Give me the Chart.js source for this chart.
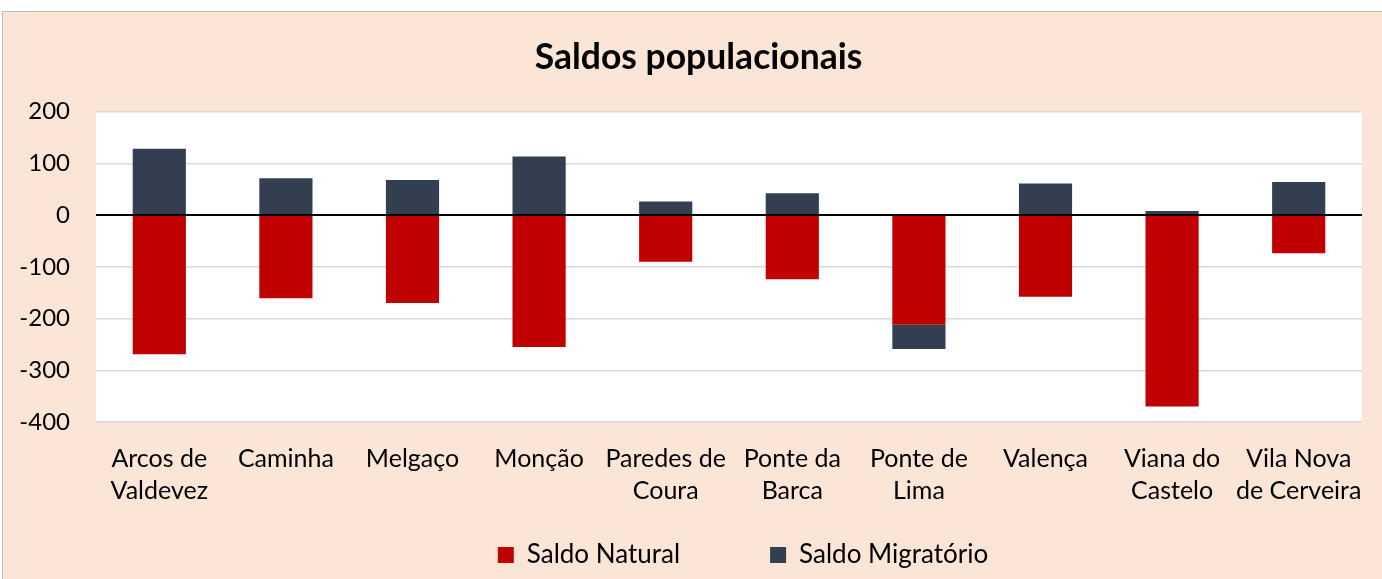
<!DOCTYPE html>
<html>
<head>
<meta charset="utf-8">
<script src="https://cdn.jsdelivr.net/npm/chart.js@4"></script>
<style>
    body { margin: 0; background: #ffffff; }
    #wrap {
        position: absolute;
        left: 2px;
        top: 11px;
        width: 1379px;
        height: 567px;
        border-top: 1px solid #bfbfbf;
        border-left: 1px solid #bfbfbf;
        background: #fbe5d6;
    }
</style>
</head>
<body>
<div id="wrap"><canvas id="myChart" width="1379" height="567"></canvas></div>
<script>
const municipios = [
    ['Arcos de', 'Valdevez'],
    'Caminha',
    'Melgaço',
    'Monção',
    ['Paredes de', 'Coura'],
    ['Ponte da', 'Barca'],
    ['Ponte de', 'Lima'],
    'Valença',
    ['Viana do', 'Castelo'],
    ['Vila Nova', 'de Cerveira']
];
const saldoNatural = [-269, -161, -170, -255, -90, -124, -212, -158, -370, -74];
const saldoMigratorio = [128, 71, 68, 113, 26, 42, -47, 61, 8, 64];
const yTicks = [-400, -300, -200, -100, 0, 100, 200];

const fontFamily = 'Lato, "Open Sans", sans-serif';

// white plot area on the peach background
const plotBackground = {
    id: 'plotBackground',
    beforeDraw(chart) {
        const a = chart.chartArea;
        chart.ctx.save();
        chart.ctx.fillStyle = '#ffffff';
        chart.ctx.fillRect(a.left, a.top, a.right - a.left, a.bottom - a.top);
        chart.ctx.restore();
    }
};

// move legend / title a little, like the excel original
const boxShift = {
    id: 'boxShift',
    afterLayout(chart) {
        const lg = chart.legend;
        lg.left += 14;
        lg.right += 14;
        lg.top = 440;
        lg.bottom = lg.top + 127;
        lg.height = 127;
        chart.titleBlock.left += 16;
        chart.titleBlock.right += 16;
    }
};

var ctx = document.getElementById('myChart').getContext('2d');
new Chart(ctx, {
    type: 'bar',
    data: {
        labels: municipios,
        datasets: [{
            label: 'Saldo Natural',
            data: saldoNatural,
            backgroundColor: '#c00000',
            borderWidth: 0
        }, {
            label: 'Saldo Migratório',
            data: saldoMigratorio,
            backgroundColor: '#333f50',
            borderWidth: 0
        }]
    },
    options: {
        responsive: false,
        animation: false,
        categoryPercentage: 1,
        barPercentage: 0.42,
        layout: {
            padding: { left: 0, right: 20, top: 0, bottom: 3 }
        },
        scales: {
            x: {
                stacked: true,
                grid: { display: false },
                border: { display: false },
                ticks: {
                    color: '#000000',
                    padding: 13,
                    maxRotation: 0,
                    autoSkip: false,
                    font: { family: fontFamily, size: 25, lineHeight: 1.28 }
                },
                afterFit(scale) {
                    scale.height = 90;
                }
            },
            y: {
                stacked: true,
                min: yTicks[0],
                max: yTicks[yTicks.length - 1],
                afterBuildTicks(scale) {
                    scale.ticks = yTicks.map(v => ({ value: v }));
                },
                border: { display: false },
                grid: {
                    drawTicks: false,
                    color: c => c.tick.value === 0 ? '#000000' : '#d9d9d9',
                    lineWidth: c => c.tick.value === 0 ? 2 : 1.5
                },
                ticks: {
                    color: '#000000',
                    padding: 26,
                    font: { family: fontFamily, size: 24 }
                },
                afterFit(scale) {
                    scale.width = 93;
                }
            }
        },
        plugins: {
            title: {
                display: true,
                text: 'Saldos populacionais',
                color: '#000000',
                font: { family: fontFamily, size: 35.5, weight: 'bold', lineHeight: 1.2 },
                padding: { top: 24, bottom: 33 }
            },
            legend: {
                position: 'bottom',
                fullSize: false,
                maxHeight: 64,
                labels: {
                    color: '#000000',
                    boxWidth: 16,
                    boxHeight: 16,
                    padding: 90,
                    font: { family: fontFamily, size: 26 }
                }
            },
            tooltip: { enabled: false }
        }
    },
    plugins: [plotBackground, boxShift]
});
</script>
</body>
</html>
